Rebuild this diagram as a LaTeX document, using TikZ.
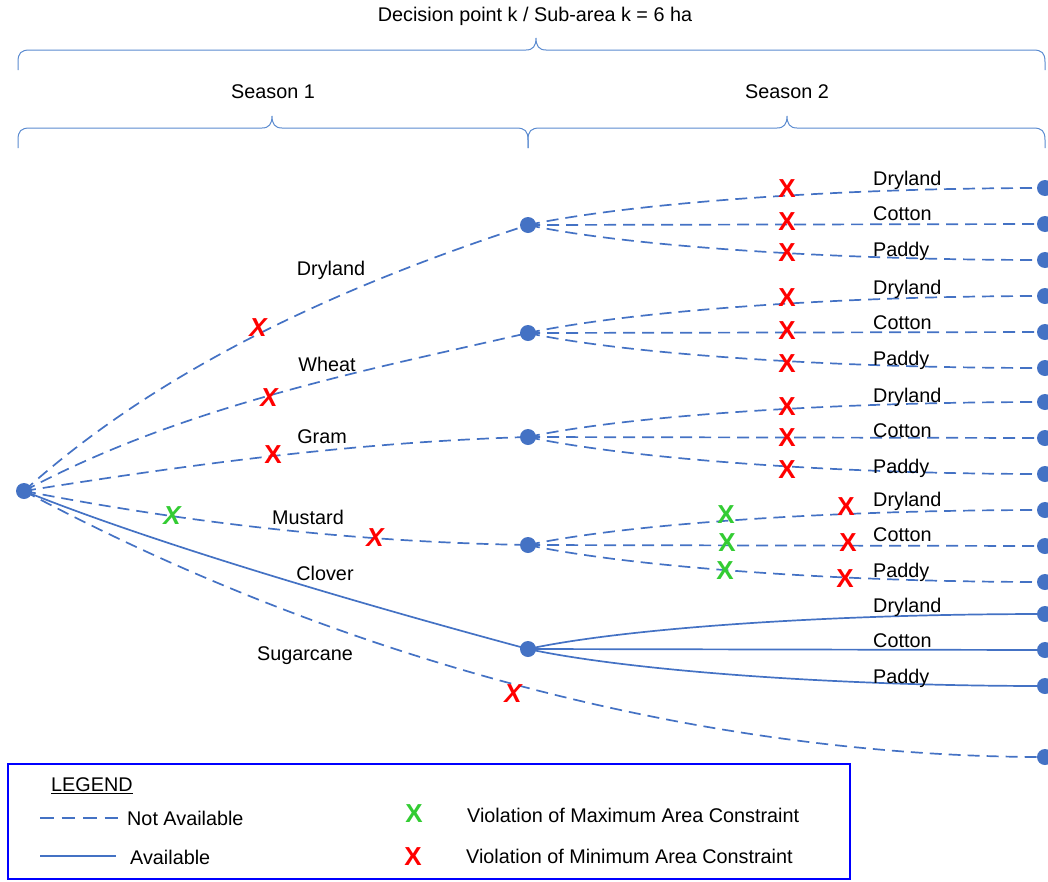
\documentclass[tikz,border=0pt]{standalone}
\usepackage{fontspec}
\setmainfont{Liberation Sans}
\usetikzlibrary{calc}
\definecolor{lb}{HTML}{4472C4}
\definecolor{br}{HTML}{5B8BD0}
\definecolor{xr}{HTML}{FF0000}
\definecolor{xg}{HTML}{33CC33}
\definecolor{lgb}{HTML}{0000FF}
\begin{document}
\begin{tikzpicture}[x=1pt,y=-1pt,
  dot/.style={circle,fill=lb,inner sep=0pt,minimum size=16pt},
  na/.style={draw=lb,line width=1.7pt,dash pattern=on 12pt off 7pt},
  av/.style={draw=lb,line width=1.7pt},
  brc/.style={draw=br,line width=1pt},
  lbl/.style={font=\fontsize{19.8}{23}\selectfont,inner sep=0pt},
  rx/.style={text=xr,font=\fontsize{26}{26}\selectfont\bfseries,inner sep=0pt},
  rxi/.style={text=xr,font=\fontsize{26}{26}\selectfont\bfseries\itshape,inner sep=0pt},
  gx/.style={text=xg,font=\fontsize{26}{26}\selectfont\bfseries,inner sep=0pt},
  gxi/.style={text=xg,font=\fontsize{26}{26}\selectfont\bfseries\itshape,inner sep=0pt}]
\useasboundingbox (0,0) rectangle (1048,881);
% braces
\draw[brc] (18,70) -- (18,62) .. controls (18,53) and (21,50) .. (30,50) -- (526,50) .. controls (533,50) and (536,46) .. (536,38) .. controls (536,46) and (539,50) .. (546,50) -- (1033,50) .. controls (1042,50) and (1045,53) .. (1045,62) -- (1045,70);
\draw[brc] (18,148) -- (18,140) .. controls (18,131) and (21,128) .. (30,128) -- (262,128) .. controls (269,128) and (272,124) .. (272,116) .. controls (272,124) and (275,128) .. (282,128) -- (516,128) .. controls (525,128) and (528,131) .. (528,140) -- (528,148);
\draw[brc] (528,148) -- (528,140) .. controls (528,131) and (531,128) .. (540,128) -- (777,128) .. controls (784,128) and (787,124) .. (787,116) .. controls (787,124) and (790,128) .. (797,128) -- (1033,128) .. controls (1042,128) and (1045,131) .. (1045,140) -- (1045,148);
\node[lbl] (tt) at (535,16) {Decision point k / Sub-area k = 6 ha};
\node[lbl] (s1t) at (273,92) {Season 1};
\node[lbl] (s2t) at (787,92) {Season 2};
% nodes
\node[dot] (r) at (24,491) {};
\node[dot] (n1) at (528,225) {};
\node[dot] (n2) at (528,333) {};
\node[dot] (n3) at (528,437) {};
\node[dot] (n4) at (528,545) {};
\node[dot] (n5) at (528,649) {};
\foreach \g/\y in {1/0,2/108,3/214,4/322,5/426}{
  \node[dot] (e\g a) at (1045,188+\y) {};
  \node[dot] (e\g b) at (1045,224+\y) {};
  \node[dot] (e\g c) at (1045,260+\y) {};
}
\node[dot] (e6) at (1045,757) {};
% season 1 edges
\draw[na] (r.center) .. controls (173,357) and (366,278) .. (n1.center);
\draw[na] (r.center) .. controls (183,406) and (362,371) .. (n2.center);
\draw[na] (r.center) .. controls (192,464) and (358,442) .. (n3.center);
\draw[na] (r.center) .. controls (194,524) and (358,542) .. (n4.center);
\draw[av] (r.center) .. controls (163,547) and (383,610) .. (n5.center);
\draw[na] (r.center) .. controls (377,679) and (743,757) .. (e6.center);
% season 2 edges
\foreach \g/\s in {1/na,2/na,3/na,4/na,5/av}{
  \draw[\s] (n\g.center) .. controls ($(n\g.center)+(92,-20)$) and ($(e\g a.center)+(-224,0)$) .. (e\g a.center);
  \draw[\s] (n\g.center) -- (e\g b.center);
  \draw[\s] (n\g.center) .. controls ($(n\g.center)+(92,20)$) and ($(e\g c.center)+(-224,0)$) .. (e\g c.center);
}
% season 1 labels
\node[lbl] (l1) at (331,270) {Dryland};
\node[lbl] (l2) at (327,364) {Wheat};
\node[lbl] (l3) at (322,437) {Gram};
\node[lbl] (l4) at (308,517) {Mustard};
\node[lbl] (l5) at (325,573) {Clover};
\node[lbl] (l6) at (305,656) {Sugarcane};
% season 2 labels
\foreach \g/\y in {1/0,2/109,3/217,4/321,5/427}{
  \node[lbl,anchor=west] (d\g) at (873,180+\y) {Dryland};
  \node[lbl,anchor=west] (c\g) at (873,214+\y) {Cotton};
  \node[lbl,anchor=west] (p\g) at (873,251+\y) {Paddy};
}
% X marks season 1
\node[rxi] (x1) at (258,328) {X};
\node[rxi] (x2) at (269,398) {X};
\node[rx] (x3) at (273,455) {X};
\node[gxi] (x4) at (172,516) {X};
\node[rxi] (x5) at (375,538) {X};
\node[rxi] (x6) at (513,694) {X};
% X marks season 2
\foreach \y [count=\i] in {189,222,253,298,331,364,407,438,470}{
  \node[rx] (y\i) at (787,\y) {X};
}
\node[gx] (g1) at (726,515) {X};
\node[gx] (g2) at (727,543) {X};
\node[gx] (g3) at (725,571) {X};
\node[rx] (h1) at (846,507) {X};
\node[rx] (h2) at (848,543) {X};
\node[rx] (h3) at (845,579) {X};
% legend
\draw[draw=lgb,line width=1.6pt] (8,764) rectangle (850,879);
\node[lbl,anchor=west] (lg) at (51,786) {\underline{LEGEND}};
\coordinate (ls1) at (40,818);
\coordinate (ls2) at (118,818);
\coordinate (la1) at (40,856);
\coordinate (la2) at (116,856);
\draw[na,dash pattern=on 13.5pt off 8pt] (ls1) -- (ls2);
\draw[av] (la1) -- (la2);
\node[lbl,anchor=west] (lna) at (127,818) {Not Available};
\node[lbl,anchor=west] (lav) at (130,857) {Available};
\node[gx] (lgx) at (414,814) {X};
\node[rx] (lrx) at (413,857) {X};
\node[lbl,anchor=west] (lmax) at (467,815) {Violation of Maximum Area Constraint};
\node[lbl,anchor=west] (lmin) at (466,856) {Violation of Minimum Area Constraint};
\end{tikzpicture}
\end{document}
